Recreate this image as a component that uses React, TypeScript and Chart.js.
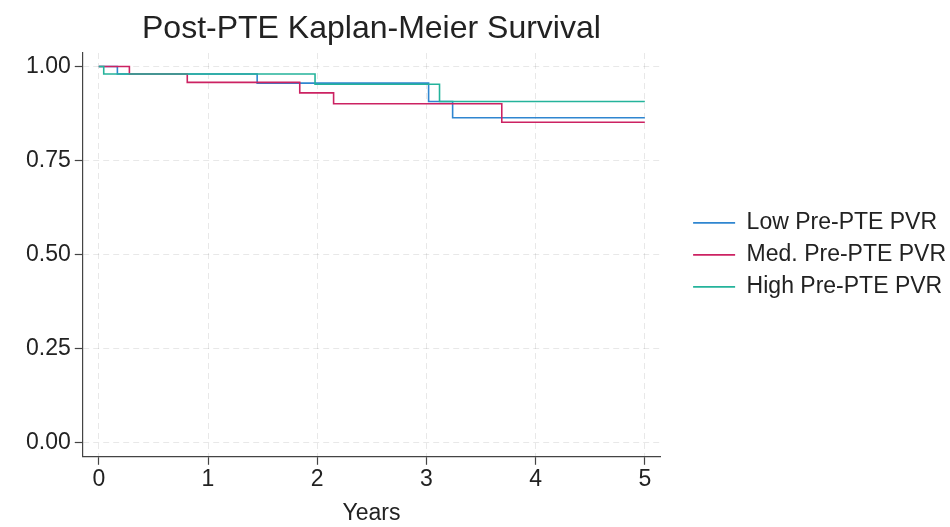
import { useEffect, useRef } from "react";
import { Chart, registerables } from "chart.js";

Chart.register(...registerables);

const chartTitle = "Post-PTE Kaplan-Meier Survival";
const xAxisTitle = "Years";
const seriesNames = ["Low Pre-PTE PVR", "Med. Pre-PTE PVR", "High Pre-PTE PVR"];
const seriesColors = ["#2f86d0", "#cc2262", "#24b39b"];

const lowYears = [0, 0.17, 1.45, 3.02, 3.24, 5];
const lowSurv = [1, 0.98, 0.956, 0.907, 0.864, 0.864];
const medYears = [0, 0.28, 0.81, 1.84, 2.15, 3.69, 5];
const medSurv = [1, 0.98, 0.958, 0.93, 0.901, 0.852, 0.852];
const highYears = [0, 0.045, 1.98, 3.12, 5];
const highSurv = [1, 0.98, 0.953, 0.907, 0.907];

const xTicks = [0, 1, 2, 3, 4, 5];
const xTickLabels = ["0", "1", "2", "3", "4", "5"];
const yTicks = [0, 0.25, 0.5, 0.75, 1];
const yTickLabels = ["0.00", "0.25", "0.50", "0.75", "1.00"];

const FONT = "'Liberation Sans', Arial, sans-serif";
const TEXT = "#222";

export default function App() {
  const ref = useRef<HTMLCanvasElement>(null);

  useEffect(() => {
    const series = [
      [lowYears, lowSurv],
      [medYears, medSurv],
      [highYears, highSurv],
    ];
    const chart = new Chart(ref.current!, {
      type: "line",
      data: {
        datasets: series.map(([xs, ys], i) => ({
          label: seriesNames[i],
          data: xs.map((x, j) => ({ x, y: ys[j] })),
          borderColor: seriesColors[i],
          backgroundColor: seriesColors[i],
          borderWidth: 1.6,
          pointRadius: 0,
          stepped: true,
          fill: false,
          order: 3 - i,
        })),
      },
      options: {
        responsive: false,
        animation: false,
        devicePixelRatio: 1,
        layout: { padding: { left: 22, right: -6, top: 0, bottom: 0 } },
        plugins: {
          title: {
            display: true,
            text: chartTitle,
            fullSize: false,
            color: TEXT,
            font: { family: FONT, size: 32, weight: "normal" },
            padding: { top: 10, bottom: 4.6 },
          },
          legend: {
            position: "right",
            align: "center",
            fullSize: false,
            maxWidth: 400,
            labels: {
              usePointStyle: true,
              pointStyle: "line",
              pointStyleWidth: 42,
              padding: 9,
              color: TEXT,
              font: { family: FONT, size: 23 },
              sort: (a: any, b: any) => a.datasetIndex - b.datasetIndex,
            },
          },
          tooltip: { enabled: false },
        },
        scales: {
          x: {
            type: "linear",
            min: -0.147,
            max: 5.14,
            afterBuildTicks: (s: any) => {
              s.ticks = xTicks.map((v) => ({ value: v }));
            },
            ticks: {
              callback: (_v: any, i: number) => xTickLabels[i],
              color: TEXT,
              font: { family: FONT, size: 23 },
              padding: 1,
              maxRotation: 0,
            },
            grid: {
              color: "rgba(0,0,0,0.09)",
              lineWidth: 1,
              tickColor: "#444",
              tickLength: 8,
              tickWidth: 1.2,
            },
            border: { display: true, color: "#444", width: 1.2, dash: [6, 4] },
            title: {
              display: true,
              text: xAxisTitle,
              color: TEXT,
              font: { family: FONT, size: 23 },
              padding: { top: 5, bottom: 0 },
            },
          },
          y: {
            type: "linear",
            min: -0.037,
            max: 1.036,
            afterBuildTicks: (s: any) => {
              s.ticks = yTicks.map((v) => ({ value: v }));
            },
            ticks: {
              callback: (_v: any, i: number) => yTickLabels[i],
              color: TEXT,
              font: { family: FONT, size: 23 },
              padding: 4,
            },
            grid: {
              color: "rgba(0,0,0,0.09)",
              lineWidth: 1,
              tickColor: "#444",
              tickLength: 8,
              tickWidth: 1.2,
            },
            border: { display: true, color: "#444", width: 1.2, dash: [6, 4] },
          },
          gap: {
            type: "linear",
            position: "right",
            display: true,
            ticks: { display: false },
            grid: { display: false, drawTicks: false },
            border: { display: false },
            afterFit: (s: any) => {
              s.width = 24;
            },
          },
        },
      },
    } as any);
    return () => chart.destroy();
  }, []);

  return (
    <div style={{ position: "fixed", left: 0, top: 0, width: 950, height: 527, background: "#fff" }}>
      <canvas ref={ref} width={950} height={527} style={{ display: "block", width: 950, height: 527 }} />
    </div>
  );
}
